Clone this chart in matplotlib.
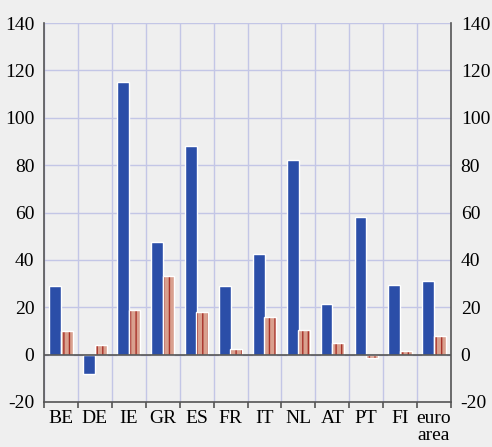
import matplotlib
matplotlib.use("Agg")
import matplotlib.pyplot as plt
import numpy as np

countries = ["BE", "DE", "IE", "GR", "ES", "FR", "IT", "NL", "AT", "PT", "FI", "euro\narea"]
blue_vals = [29, -8, 115, 47.5, 88, 29, 42.5, 82, 21.5, 58, 29.5, 31]
red_vals = [10, 4, 19, 33, 18, 2.5, 16, 10.5, 5, -1.5, 1.5, 8]
y_ticks = [-20, 0, 20, 40, 60, 80, 100, 120, 140]

plt.rcParams["font.family"] = ["Liberation Serif", "DejaVu Serif"]
plt.rcParams["hatch.linewidth"] = 1.0

bg = "#efefef"
fig = plt.figure(figsize=(4.92, 4.47), dpi=100, facecolor=bg)
ax = fig.add_axes([0.0894, 0.1007, 0.8273, 0.8478])
ax.set_facecolor(bg)

x = np.arange(len(countries))
w = 0.35
ax.bar(x - 0.17, blue_vals, w, color="#2b4ea8", edgecolor="white", linewidth=1.0, zorder=3)
ax.bar(x + 0.17, red_vals, w, color="#d9a08e", edgecolor="#a8322a", linewidth=0,
       hatch="|||", zorder=3)
ax.bar(x + 0.17, red_vals, w, color="none", edgecolor="white", linewidth=1.0, zorder=4)

ax.axhline(0, color="#555555", linewidth=1.2, zorder=5)

ax.set_xlim(-0.5, len(countries) - 0.5)
ax.set_ylim(-20, 140)
ax.set_yticks(y_ticks)
ax.set_yticklabels([str(v) for v in y_ticks], fontsize=14)
ax.tick_params(axis="y", length=0, pad=7, labelright=True, right=False)
for lbl in ax.get_yticklabels(which="major"):
    pass
ax.yaxis.set_tick_params(which="major", pad=7)

ax.set_xticks(x)
ax.set_xticklabels(countries, fontsize=14, linespacing=0.95, va="top")
ax.tick_params(axis="x", length=0, pad=6)
ax.set_xticks(np.arange(-0.5, len(countries)), minor=True)
ax.tick_params(axis="x", which="minor", length=4, direction="out", color="#555555", width=1.2)

ax.yaxis.grid(True, color="#c3c6e6", linewidth=1.0, zorder=0)
ax.xaxis.grid(True, which="minor", color="#c3c6e6", linewidth=1.0, zorder=0)
ax.xaxis.grid(False, which="major")
ax.set_axisbelow(True)

for side in ["left", "right", "bottom"]:
    ax.spines[side].set_color("#555555")
    ax.spines[side].set_linewidth(1.2)
ax.spines["top"].set_visible(False)

fig.savefig("out.png", dpi=100, facecolor=bg)
